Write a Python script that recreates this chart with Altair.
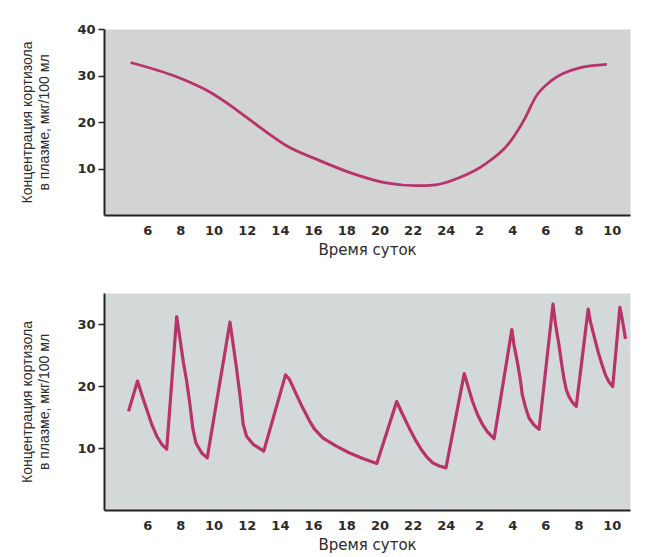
import altair as alt
import pandas as pd

# Top panel: smooth circadian curve (hour of day, continuous past midnight: 26 = 2 h next day)
top_hours = [5.0, 8.0, 9.8, 11.2, 12.4, 14.4, 16.4, 18.4, 20.4, 22.2, 23.4, 24.8,
             26.4, 27.8, 28.8, 29.4, 30.4, 32.0, 33.7]
top_values = [32.8, 29.4, 26.4, 23.1, 19.9, 14.9, 11.7, 8.9, 6.9, 6.3, 6.5, 8.0,
              11.0, 15.4, 21.0, 25.3, 29.0, 31.6, 32.4]

# Bottom panel: pulsatile secretion
bot_hours = [4.88, 5.42, 5.68, 6.28, 6.58, 6.88, 7.18,
             7.78, 7.98, 8.18, 8.39, 8.58, 8.75, 8.94, 9.29, 9.62,
             10.99, 11.19, 11.39, 11.59, 11.79, 11.99, 12.39, 13.03,
             14.34, 14.59, 15.00, 15.39, 15.80, 16.10, 16.60, 17.40, 18.20, 19.00, 19.84,
             21.04, 21.40, 21.80, 22.21, 22.51, 22.81, 23.21, 23.61, 24.01,
             25.11, 25.31, 25.61, 25.91, 26.21, 26.51, 26.91,
             27.98, 28.11, 28.31, 28.48, 28.61, 28.82, 29.02, 29.32, 29.62,
             30.46, 30.62, 30.82, 30.98, 31.12, 31.26, 31.42, 31.62, 31.86,
             32.58, 32.72, 32.92, 33.18, 33.42, 33.62, 33.82, 34.06,
             34.49, 34.63, 34.83]
bot_values = [15.9, 20.8, 18.6, 13.8, 11.9, 10.6, 9.8,
              31.2, 27.6, 23.9, 20.7, 17.0, 13.2, 10.8, 9.2, 8.4,
              30.3, 26.6, 22.8, 18.6, 13.8, 11.9, 10.6, 9.5,
              21.8, 21.0, 18.6, 16.4, 14.3, 13.0, 11.6, 10.3, 9.2, 8.3, 7.5,
              17.5, 15.4, 13.2, 11.1, 9.8, 8.7, 7.6, 7.1, 6.8,
              22.0, 20.2, 17.5, 15.4, 13.8, 12.6, 11.5,
              29.1, 26.6, 23.9, 21.2, 18.6, 16.4, 14.8, 13.7, 13.0,
              33.2, 29.8, 26.6, 23.6, 21.2, 19.4, 18.3, 17.4, 16.7,
              32.4, 30.3, 28.2, 25.5, 23.4, 21.8, 20.7, 19.9,
              32.7, 30.8, 27.6]

x_ticks = [6, 8, 10, 12, 14, 16, 18, 20, 22, 24, 26, 28, 30, 32, 34]
top_y_ticks = [10, 20, 30, 40]
bot_y_ticks = [10, 20, 30]

y_title = ["Концентрация кортизола", "в плазме, мкг/100 мл"]
x_title = "Время суток"

LINE = "#b8336a"
TEXT = "#2b2b2b"

top_df = pd.DataFrame({"h": top_hours, "v": top_values})
bot_df = pd.DataFrame({"h": bot_hours, "v": bot_values})


def x_axis():
    return alt.Axis(
        values=x_ticks,
        labelExpr="datum.value > 24 ? datum.value - 24 : datum.value",
        title=x_title,
        ticks=False,
        grid=False,
        domainColor="#222222",
        domainWidth=2,
        labelFont="DejaVu Sans",
        labelFontWeight="bold",
        labelFontSize=13,
        labelColor=TEXT,
        labelPadding=9,
        labelFlush=False,
        titleFont="DejaVu Sans",
        titleFontSize=15,
        titleFontWeight="normal",
        titleColor=TEXT,
        titlePadding=5,
    )


def y_axis(vals):
    return alt.Axis(
        values=vals,
        title=y_title,
        grid=False,
        domainColor="#222222",
        domainWidth=2,
        tickColor="#222222",
        tickSize=6,
        tickWidth=1.5,
        labelFont="DejaVu Sans",
        labelFontWeight="bold",
        labelFontSize=13,
        labelColor=TEXT,
        labelPadding=3,
        titleFont="Liberation Sans",
        titleFontSize=14,
        titleFontWeight="normal",
        titleColor=TEXT,
        titleLineHeight=17,
        titlePadding=25,
    )


x_scale = alt.Scale(domain=[3.4, 35.1], nice=False, zero=False)

top = alt.Chart(top_df).mark_line(
    color=LINE, strokeWidth=2.8, interpolate="monotone"
).encode(
    x=alt.X("h:Q", scale=x_scale, axis=x_axis()),
    y=alt.Y("v:Q", scale=alt.Scale(domain=[0, 40], nice=False), axis=y_axis(top_y_ticks)),
).properties(
    width=526, height=186,
    view=alt.ViewBackground(fill="#d1d4d3", stroke="transparent"),
)

bottom = alt.Chart(bot_df).mark_line(
    color=LINE, strokeWidth=3.2, strokeJoin="round"
).encode(
    x=alt.X("h:Q", scale=x_scale, axis=x_axis()),
    y=alt.Y("v:Q", scale=alt.Scale(domain=[0, 35], nice=False), axis=y_axis(bot_y_ticks)),
).properties(
    width=526, height=217,
    view=alt.ViewBackground(fill="#d3d9d8", stroke="transparent"),
)

chart = alt.vconcat(top, bottom, spacing=34).properties(
    background="white",
    padding={"top": 14, "left": 12, "right": 5, "bottom": 5},
).configure_view(stroke="transparent")

chart.save("out.html", embed_options={"renderer": "svg", "actions": False})
